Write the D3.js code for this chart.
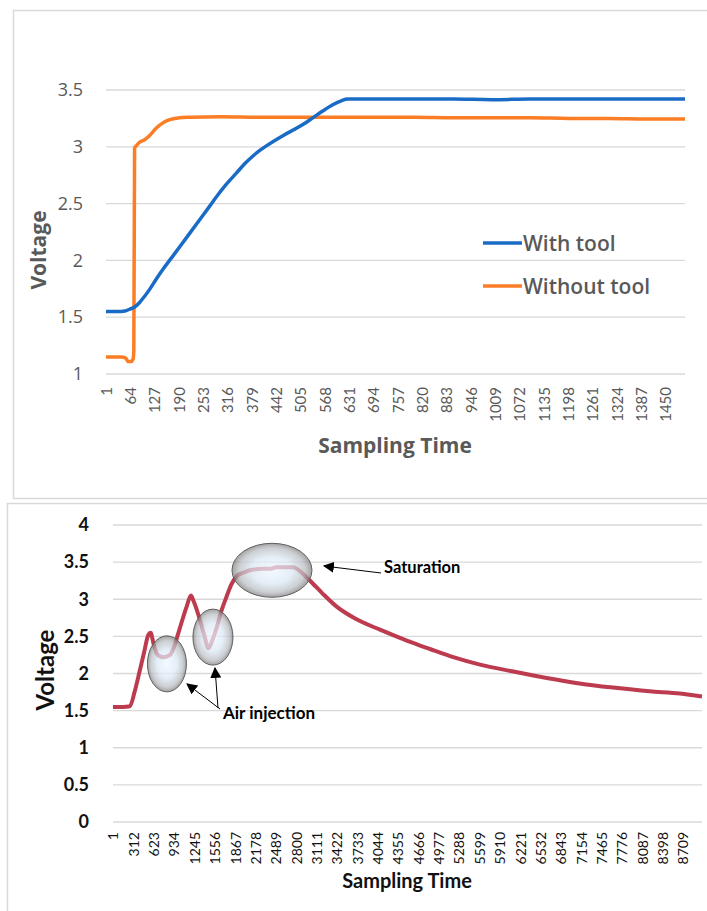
<!DOCTYPE html>
<html>
<head>
<meta charset="utf-8">
<script src="https://cdn.jsdelivr.net/npm/d3@7"></script>
<style>
  body { margin: 0; background: #fff; }
  svg { display: block; }
</style>
</head>
<body>
<div id="viz"></div>
<script>
// ---- data: top chart (with / without tool) ----
var topTicks = [1, 64, 127, 190, 253, 316, 379, 442, 505, 568, 631, 694, 757, 820, 883, 946,
  1009, 1072, 1135, 1198, 1261, 1324, 1387, 1450];
var topYTicks = [1, 1.5, 2, 2.5, 3, 3.5];

var withToolSample = [1, 30, 50, 62, 75, 88, 100, 114, 130, 148, 170, 192, 218, 244, 270, 287, 310, 339, 360, 380,
  400, 417, 460, 503, 530, 560, 588, 610, 627, 700, 800, 900, 1000, 1100, 1200, 1300, 1400, 1500];
var withToolVolt = [1.55, 1.55, 1.555, 1.57, 1.59, 1.63, 1.68, 1.745, 1.83, 1.92, 2.02, 2.12, 2.24, 2.36, 2.48, 2.56, 2.66, 2.77, 2.85, 2.915,
  2.97, 3.01, 3.10, 3.18, 3.24, 3.31, 3.37, 3.405, 3.42, 3.42, 3.42, 3.42, 3.415, 3.42, 3.42, 3.42, 3.42, 3.42];

var withoutToolSample = [1, 40, 52, 58, 66, 71, 73, 75, 80, 88, 100, 114, 127, 140, 153, 166, 190, 218,
  300, 400, 500, 600, 700, 800, 900, 1000, 1100, 1200, 1300, 1400, 1500];
var withoutToolVolt = [1.15, 1.15, 1.14, 1.11, 1.11, 1.13, 1.2, 2.99, 3.01, 3.04, 3.06, 3.1, 3.15, 3.19, 3.22, 3.24, 3.255, 3.26,
  3.265, 3.26, 3.26, 3.26, 3.26, 3.26, 3.255, 3.255, 3.255, 3.25, 3.25, 3.245, 3.245];

// ---- data: bottom chart (air injection test) ----
var botTicks = [1, 312, 623, 934, 1245, 1556, 1867, 2178, 2489, 2800, 3111, 3422, 3733, 4044, 4355,
  4666, 4977, 5288, 5599, 5910, 6221, 6532, 6843, 7154, 7465, 7776, 8087, 8398, 8709];
var botYTicks = [0, 0.5, 1, 1.5, 2, 2.5, 3, 3.5, 4];

var airSample = [1, 150, 260, 330, 413, 480, 540, 576, 620, 668, 720, 770, 871, 930, 998, 1060, 1126, 1192,
  1230, 1330, 1400, 1457, 1520, 1585, 1660, 1738, 1810, 1890, 2000, 2145, 2290, 2400, 2500, 2650, 2755, 2807,
  3000, 3200, 3418, 3700, 4080, 4500, 4844, 5200, 5608, 6100, 6627, 7100, 7641, 8200, 8665, 9000];
var airVolt = [1.55, 1.55, 1.56, 1.75, 2.05, 2.3, 2.52, 2.55, 2.4, 2.27, 2.23, 2.22, 2.25, 2.35, 2.54, 2.72, 2.9, 3.05,
  2.98, 2.72, 2.5, 2.34, 2.45, 2.62, 2.85, 3.04, 3.2, 3.31, 3.36, 3.4, 3.41, 3.41, 3.43, 3.43, 3.43, 3.41,
  3.26, 3.08, 2.9, 2.74, 2.59, 2.44, 2.33, 2.22, 2.12, 2.03, 1.94, 1.87, 1.81, 1.76, 1.73, 1.69];

// annotation bubbles [sample, voltage, rx, ry]
var bubbles = [[825, 2.13, 19.5, 28], [1528, 2.49, 20, 28], [2430, 3.39, 40, 27]];

var svg = d3.select('#viz').append('svg')
  .attr('width', 707)
  .attr('height', 911);

// ================= top chart =================
svg.append('rect')
  .attr('x', 13.5).attr('y', 10.5).attr('width', 720).attr('height', 488)
  .attr('fill', 'none').attr('stroke', '#d9d9d9').attr('stroke-width', 1.5);

var xTop = d3.scaleLinear().domain([1, 1500]).range([106, 685]);
var yTop = d3.scaleLinear().domain([1, 3.5]).range([374, 90]);

var topG = svg.append('g').attr('id', 'topChart');

topG.selectAll('.grid')
  .data(topYTicks)
  .enter().append('line')
  .attr('class', 'grid')
  .attr('x1', xTop.range()[0]).attr('x2', xTop.range()[1])
  .attr('y1', function (d) { return yTop(d); })
  .attr('y2', function (d) { return yTop(d); })
  .attr('stroke', '#d9d9d9').attr('stroke-width', 1.3);

topG.append('g')
  .attr('transform', 'translate(' + (xTop.range()[0] - 20) + ',0)')
  .call(d3.axisLeft(yTop).tickValues(topYTicks).tickSize(0).tickFormat(d3.format('')))
  .call(function (g) { g.select('.domain').remove(); })
  .selectAll('text')
  .attr('fill', '#595959')
  .style('font-family', '"Open Sans", sans-serif')
  .style('font-size', '18px');

topG.append('g')
  .attr('transform', 'translate(0,' + yTop(1) + ')')
  .call(d3.axisBottom(xTop).tickValues(topTicks).tickSize(0).tickFormat(d3.format('d')))
  .call(function (g) { g.select('.domain').remove(); })
  .selectAll('text')
  .attr('fill', '#595959')
  .attr('transform', 'rotate(-90)')
  .attr('text-anchor', 'end')
  .attr('x', -13).attr('y', 0).attr('dy', '0.35em')
  .style('font-family', 'Lato, sans-serif')
  .style('font-size', '15px');

var lineTop = d3.line()
  .x(function (d) { return xTop(d[0]); })
  .y(function (d) { return yTop(d[1]); })
  .curve(d3.curveMonotoneX);

topG.append('path')
  .datum(d3.zip(withoutToolSample, withoutToolVolt))
  .attr('d', lineTop)
  .attr('fill', 'none').attr('stroke', '#fb7d25').attr('stroke-width', 3.5)
  .attr('stroke-linejoin', 'round');

topG.append('path')
  .datum(d3.zip(withToolSample, withToolVolt))
  .attr('d', lineTop)
  .attr('fill', 'none').attr('stroke', '#1a6bc6').attr('stroke-width', 3.5)
  .attr('stroke-linejoin', 'round');

topG.append('text')
  .attr('transform', 'translate(46,250) rotate(-90)')
  .attr('text-anchor', 'middle')
  .attr('fill', '#595959')
  .style('font-family', '"Open Sans", sans-serif')
  .style('font-size', '21px').style('font-weight', 700)
  .text('Voltage');

topG.append('text')
  .attr('x', 395).attr('y', 453)
  .attr('text-anchor', 'middle')
  .attr('fill', '#595959')
  .style('font-family', '"Open Sans", sans-serif')
  .style('font-size', '21px').style('font-weight', 700)
  .text('Sampling Time');

// legend
var legend = [['With tool', '#1a6bc6'], ['Without tool', '#fb7d25']];
var leg = topG.selectAll('.legend')
  .data(legend)
  .enter().append('g')
  .attr('class', 'legend')
  .attr('transform', function (d, i) { return 'translate(483,' + (243 + i * 43) + ')'; });
leg.append('line')
  .attr('x1', 0).attr('x2', 39)
  .attr('stroke', function (d) { return d[1]; }).attr('stroke-width', 3.5);
leg.append('text')
  .attr('x', 40).attr('dy', '0.36em')
  .attr('fill', '#595959')
  .style('font-family', '"Open Sans", sans-serif')
  .style('font-size', '21px').style('font-weight', 600)
  .text(function (d) { return d[0]; });

// ================= bottom chart =================
svg.append('rect')
  .attr('x', 7.5).attr('y', 503.5).attr('width', 720).attr('height', 420)
  .attr('fill', 'none').attr('stroke', '#d9d9d9').attr('stroke-width', 1.5);

var xBot = d3.scaleLinear().domain([1, 9000]).range([113, 702]);
var yBot = d3.scaleLinear().domain([0, 4]).range([822, 525]);

var botG = svg.append('g').attr('id', 'botChart');

botG.selectAll('.grid')
  .data(botYTicks)
  .enter().append('line')
  .attr('class', 'grid')
  .attr('x1', xBot.range()[0]).attr('x2', xBot.range()[1])
  .attr('y1', function (d) { return yBot(d); })
  .attr('y2', function (d) { return yBot(d); })
  .attr('stroke', '#d9d9d9').attr('stroke-width', 1.3);

botG.append('g')
  .attr('transform', 'translate(' + (xBot.range()[0] - 21) + ',0)')
  .call(d3.axisLeft(yBot).tickValues(botYTicks).tickSize(0).tickFormat(d3.format('')))
  .call(function (g) { g.select('.domain').remove(); })
  .selectAll('text')
  .attr('fill', '#111')
  .style('font-family', 'Lato, sans-serif')
  .style('font-size', '18px').style('font-weight', 700);

botG.append('g')
  .attr('transform', 'translate(0,' + yBot(0) + ')')
  .call(d3.axisBottom(xBot).tickValues(botTicks).tickSize(0).tickFormat(d3.format('d')))
  .call(function (g) { g.select('.domain').remove(); })
  .selectAll('text')
  .attr('fill', '#111')
  .attr('transform', 'rotate(-90)')
  .attr('text-anchor', 'end')
  .attr('x', -10).attr('y', 0).attr('dy', '0.35em')
  .style('font-family', 'Lato, sans-serif')
  .style('font-size', '14px');

var lineBot = d3.line()
  .x(function (d) { return xBot(d[0]); })
  .y(function (d) { return yBot(d[1]); })
  .curve(d3.curveMonotoneX);

botG.append('path')
  .datum(d3.zip(airSample, airVolt))
  .attr('d', lineBot)
  .attr('fill', 'none').attr('stroke', '#bd3b4f').attr('stroke-width', 4)
  .attr('stroke-linejoin', 'round');

// bubble gradient + arrow marker
var defs = svg.append('defs');
var grad = defs.append('radialGradient').attr('id', 'bubble');
grad.append('stop').attr('offset', '0%').attr('stop-color', '#eef7ff');
grad.append('stop').attr('offset', '50%').attr('stop-color', '#dbe8f4');
grad.append('stop').attr('offset', '82%').attr('stop-color', '#b9bdc2');
grad.append('stop').attr('offset', '100%').attr('stop-color', '#7f7f7f');

defs.append('marker')
  .attr('id', 'arrow')
  .attr('viewBox', '0 0 10 10')
  .attr('refX', 9).attr('refY', 5)
  .attr('markerWidth', 11).attr('markerHeight', 11)
  .attr('markerUnits', 'userSpaceOnUse')
  .attr('orient', 'auto')
  .append('path').attr('d', 'M0,0 L10,5 L0,10 Z').attr('fill', '#000');

botG.selectAll('.bubble')
  .data(bubbles)
  .enter().append('ellipse')
  .attr('class', 'bubble')
  .attr('cx', function (d) { return xBot(d[0]); })
  .attr('cy', function (d) { return yBot(d[1]); })
  .attr('rx', function (d) { return d[2]; })
  .attr('ry', function (d) { return d[3]; })
  .attr('fill', 'url(#bubble)').attr('fill-opacity', 0.72)
  .attr('stroke', '#5f5f5f').attr('stroke-width', 1);

var arrows = [[220, 709, 187, 684], [218, 708, 215, 668], [381, 573, 324, 566]];
botG.selectAll('.arrow')
  .data(arrows)
  .enter().append('line')
  .attr('class', 'arrow')
  .attr('x1', function (d) { return d[0]; }).attr('y1', function (d) { return d[1]; })
  .attr('x2', function (d) { return d[2]; }).attr('y2', function (d) { return d[3]; })
  .attr('stroke', '#000').attr('stroke-width', 1)
  .attr('marker-end', 'url(#arrow)');

botG.append('text')
  .attr('x', 223).attr('y', 719)
  .style('font-family', 'Lato, sans-serif')
  .style('font-size', '17px').style('font-weight', 700)
  .text('Air injection');

botG.append('text')
  .attr('x', 384).attr('y', 573)
  .style('font-family', 'Lato, sans-serif')
  .style('font-size', '16.5px').style('font-weight', 700)
  .text('Saturation');

botG.append('text')
  .attr('transform', 'translate(54,670) rotate(-90)')
  .attr('text-anchor', 'middle')
  .attr('fill', '#111')
  .style('font-family', 'Lato, sans-serif')
  .style('font-size', '24px').style('font-weight', 700)
  .text('Voltage');

botG.append('text')
  .attr('x', 407).attr('y', 888)
  .attr('text-anchor', 'middle')
  .attr('fill', '#111')
  .style('font-family', 'Lato, sans-serif')
  .style('font-size', '20px').style('font-weight', 700)
  .text('Sampling Time');
</script>
</body>
</html>
